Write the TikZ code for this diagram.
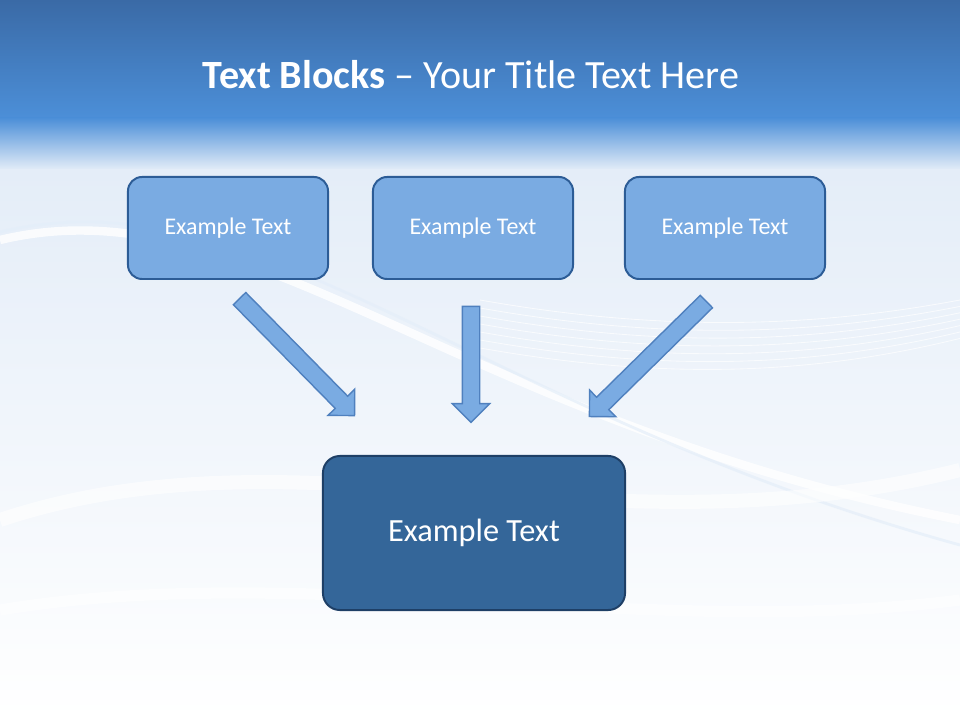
\documentclass[tikz,border=0pt]{standalone}
\usepackage{fontspec}
\setmainfont{Carlito}
\usetikzlibrary{positioning,shapes.arrows}
\definecolor{boxfill}{HTML}{7AABE2}
\definecolor{boxline}{HTML}{2C5C96}
\definecolor{mainfill}{HTML}{346699}
\definecolor{mainline}{HTML}{1E3F66}
\definecolor{arrline}{HTML}{4F80BE}
\definecolor{topdark}{HTML}{3A6AA6}
\definecolor{topmid}{HTML}{4C8FD8}
\definecolor{bgpale}{HTML}{E4EDF8}
\begin{document}
\begin{tikzpicture}[x=0.025cm,y=-0.025cm,
  txtbox/.style={draw=boxline, line width=1.4pt, fill=boxfill, rounded corners=10pt, minimum width=5cm, minimum height=2.55cm, text=white, font=\fontsize{17}{20}\selectfont},
  mainbox/.style={draw=mainline, line width=1.4pt, fill=mainfill, rounded corners=12pt, minimum width=7.55cm, minimum height=3.85cm, text=white, font=\fontsize{23}{27}\selectfont},
  blockarrow/.style={single arrow, draw=arrline, line width=1pt, fill=boxfill, inner sep=0pt, inner ysep=0.2cm, single arrow head extend=0.25cm, single arrow head indent=0pt}]
% background
\fill[bgpale] (0,0) rectangle (960,720);
\shade[top color=topdark, bottom color=topmid] (0,0) rectangle (960,118);
\shade[top color=topmid, bottom color=bgpale] (0,118) rectangle (960,170);
\shade[top color=bgpale, bottom color=white] (0,170) rectangle (960,720);
\useasboundingbox (0,0) rectangle (960,720);
% waves
\draw[white, line width=6pt, opacity=0.8] (0,240) .. controls (250,180) and (450,420) .. (960,520);
\draw[white!80!boxfill, line width=2pt, opacity=0.7] (0,232) .. controls (260,170) and (470,410) .. (960,545);
\foreach \d in {0,8,...,48}{
  \draw[white, line width=0.6pt, opacity=0.7] (480,300+\d) .. controls (650,330+\d) and (800,330+\d) .. (960,300+\d*0.8);}
\draw[white, line width=10pt, opacity=0.6] (0,520) .. controls (300,420) and (600,560) .. (960,470);
\draw[white, line width=8pt, opacity=0.5] (0,610) .. controls (300,560) and (650,640) .. (960,600);
% title
\node[text=white, font=\fontsize{28.5}{34}\selectfont] (title) at (471,75) {\textbf{Text Blocks} -- Your Title Text Here};
% boxes
\node[txtbox] (left) at (228,228) {Example Text};
\node[txtbox] (mid) at (473,228) {Example Text};
\node[txtbox] (right) at (725,228) {Example Text};
\node[mainbox] (main) at (474,533) {Example Text};
% arrows
\node[blockarrow, minimum height=4.1cm, minimum width=0.9cm, rotate=-45.5] (arrL) at (294,354) {};
\node[blockarrow, minimum height=2.9cm, minimum width=0.9cm, rotate=-90] (arrM) at (471,360) {};
\node[blockarrow, minimum height=4.1cm, minimum width=0.9cm, rotate=-135.5] (arrR) at (651,356) {};
\end{tikzpicture}
\end{document}
